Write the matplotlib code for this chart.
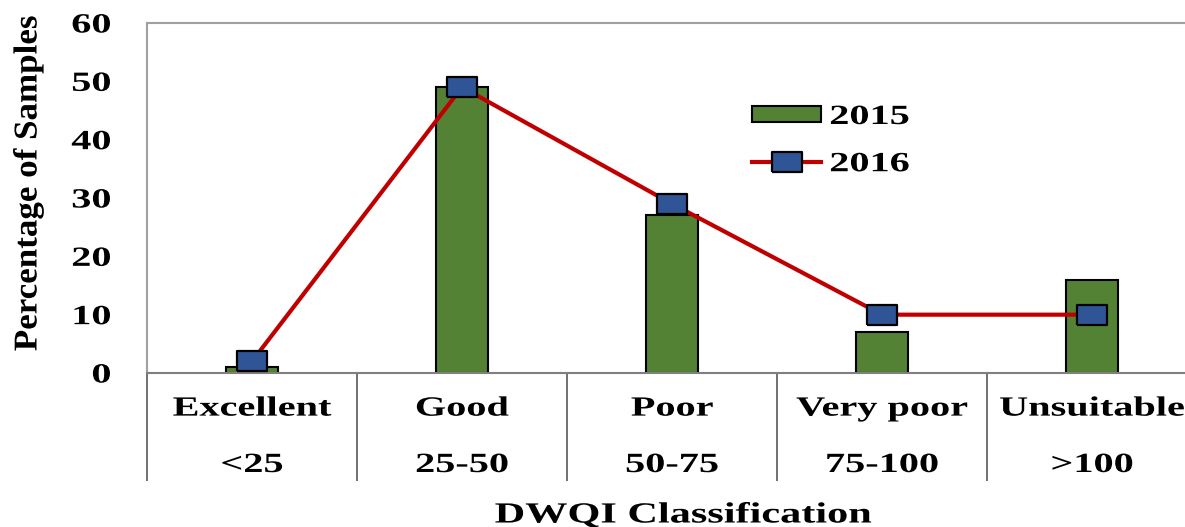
import matplotlib
matplotlib.use("Agg")
import matplotlib.pyplot as plt
from matplotlib.patheffects import AbstractPathEffect
from matplotlib.transforms import Affine2D
from matplotlib.font_manager import FontProperties

# ---- data ----
categories = ["Excellent", "Good", "Poor", "Very poor", "Unsuitable"]
ranges = ["<25", "25-50", "50-75", "75-100", ">100"]
values_2015 = [1, 49, 27, 7, 16]
values_2016 = [2, 49, 29, 10, 10]
yticks = [0, 10, 20, 30, 40, 50, 60]
series_labels = ["2015", "2016"]
x_title = "DWQI Classification"
y_title = "Percentage of Samples"

W, H = 1185, 527
FONT = "Liberation Serif"


class Stretch(AbstractPathEffect):
    """Stretch glyphs along the text direction (keeps text as real text)."""

    def __init__(self, sx, anchor="center"):
        super().__init__()
        self.sx = sx
        self.anchor = anchor

    def draw_path(self, renderer, gc, tpath, affine, rgbFace=None):
        ext = tpath.get_extents()
        if self.anchor == "left":
            cx = ext.x0
        elif self.anchor == "right":
            cx = ext.x1
        else:
            cx = 0.5 * (ext.x0 + ext.x1)
        t = Affine2D().translate(-cx, 0).scale(self.sx, 1).translate(cx, 0) + affine
        renderer.draw_path(gc, tpath, t, rgbFace)


SX = 1.45

fig = plt.figure(figsize=(W / 100, H / 100), dpi=100)
ax = fig.add_axes([147 / W, (H - 373) / H, (1197 - 147) / W, (373 - 23) / H])

x = list(range(len(categories)))
bars = ax.bar(x, values_2015, width=0.25, color="#548235", edgecolor="black",
              linewidth=1.5, zorder=2, label=series_labels[0])
rect_marker = [(-1.5, -1), (1.5, -1), (1.5, 1), (-1.5, 1), (-1.5, -1)]
line, = ax.plot(x, values_2016, color="#C00000", linewidth=3,
                marker=rect_marker, markersize=21, markerfacecolor="#2F5597",
                markeredgecolor="black", markeredgewidth=1.6, zorder=3,
                label=series_labels[1])

ax.set_xlim(-0.5, 4.5)
ax.set_ylim(0, 60)
ax.set_yticks(yticks)
ax.set_yticklabels([str(v) for v in yticks])
ax.set_xticks(x)
ax.set_xticklabels(categories)
ax.set_xticks([i - 0.5 for i in range(len(categories) + 1)], minor=True)

ax.tick_params(axis="y", length=0, pad=26)
ax.tick_params(axis="x", which="major", length=0, pad=17)
ax.tick_params(axis="x", which="minor", length=78, width=1.2, color="#595959",
               direction="out")

for lab in ax.get_yticklabels() + ax.get_xticklabels():
    lab.set_fontfamily(FONT)
    lab.set_fontweight("bold")
    lab.set_fontsize(20)
for lab in ax.get_yticklabels():
    lab.set_path_effects([Stretch(SX, "right")])
for lab in ax.get_xticklabels():
    lab.set_path_effects([Stretch(SX, "center")])

for i, r in enumerate(ranges):
    ax.text(i, (373 - 472) / 350, r, transform=ax.get_xaxis_transform(),
            ha="center", va="baseline", fontfamily=FONT, fontweight="bold",
            fontsize=20, path_effects=[Stretch(SX, "center")])

for s in ["top", "left", "right"]:
    ax.spines[s].set_color("#A0A0A0")
    ax.spines[s].set_linewidth(1.5)
ax.spines["bottom"].set_color("#808080")
ax.spines["bottom"].set_linewidth(1.5)

fig.text(683 / W, (H - 515) / H, x_title, ha="center", va="center",
         fontfamily=FONT, fontweight="bold", fontsize=21,
         path_effects=[Stretch(SX, "center")])
fig.text(28 / W, (H - 183) / H, y_title, ha="center", va="center",
         rotation=90, fontfamily=FONT, fontweight="bold", fontsize=24,
         path_effects=[Stretch(1.05, "center")])

leg = ax.legend(handles=[bars, line], labels=series_labels, loc="upper left",
                bbox_to_anchor=(752 / W, 1 - 105 / H), bbox_transform=fig.transFigure,
                frameon=False, prop=FontProperties(family=FONT, weight="bold", size=20),
                handlelength=2.5, handleheight=0.5, handletextpad=0.3,
                labelspacing=0.8, borderpad=0, borderaxespad=0)
for t in leg.get_texts():
    t.set_path_effects([Stretch(SX, "left")])

fig.savefig("out.png", dpi=100)
